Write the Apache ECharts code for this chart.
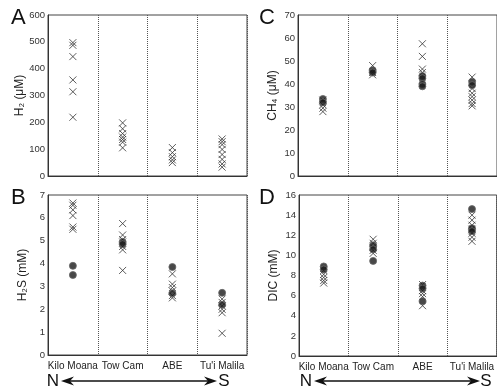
<!DOCTYPE html>
<html>
<head>
<meta charset="utf-8">
<script src="https://cdn.jsdelivr.net/npm/echarts@6/dist/echarts.min.js"></script>
<style>html,body{margin:0;padding:0;background:#fff}#c{width:497px;height:388px}</style>
</head>
<body>
<div id="c"></div>
<script>
// ---------- data ----------
var categories = ['Kilo Moana', 'Tow Cam', 'ABE', "Tu'i Malila"];

// A: H2 (µM)
var h2Cross = [
  [497, 487, 445, 358, 314, 219],
  [198, 176, 158, 145, 136, 126, 105],
  [106, 87, 72, 60, 50],
  [138, 128, 117, 99, 80, 62, 45, 33]
];
var h2Circle = [[], [], [], []];

// B: H2S (mM)
var h2sCross = [
  [6.65, 6.55, 6.35, 6.1, 5.6, 5.5],
  [5.75, 5.25, 5.05, 4.75, 4.6, 3.7],
  [3.55, 3.1, 2.95, 2.8, 2.6, 2.5],
  [2.45, 2.3, 2.15, 2.0, 1.85, 0.95]
];
var h2sCircle = [
  [3.9, 3.5],
  [4.95, 4.85],
  [3.85, 2.7],
  [2.72, 2.2]
];

// C: CH4 (µM)
var ch4Cross = [
  [33, 31, 29.5, 28],
  [48, 45, 44],
  [57.5, 52, 46.5, 45],
  [43, 38, 36, 34.5, 33, 31.5, 30.5]
];
var ch4Circle = [
  [33.5, 32],
  [46, 45],
  [43.5, 42.5, 40, 39],
  [41, 39.5]
];

// D: DIC (mM)
var dicCross = [
  [8.5, 8.1, 7.8, 7.5, 7.25],
  [11.6, 11.2, 10.8, 10.5, 10.2],
  [7.1, 6.5, 6.2, 5.9, 5.0],
  [14.0, 13.5, 13.0, 12.6, 12.2, 11.8, 11.4]
];
var dicCircle = [
  [8.9, 8.6],
  [11.0, 10.6, 9.45],
  [7.0, 6.7, 5.45],
  [14.6, 12.7, 12.4]
];

// y-axis ranges and titles
var yA = {min: 0, max: 600, interval: 100};
var yB = {min: 0, max: 7, interval: 1};
var yC = {min: 0, max: 70, interval: 10};
var yD = {min: 0, max: 16, interval: 2};
var yNames = ['H₂ (μM)', 'H₂S (mM)', 'CH₄ (μM)', 'DIC (mM)'];

// ---------- build ----------
var FONT = 'Liberation Sans, Arial, Helvetica, sans-serif';
var crossPath = 'path://M0,0L10,10M10,0L0,10';

function pairs(nested) {
  var out = [];
  nested.forEach(function (vals, i) {
    vals.forEach(function (v) { out.push([categories[i], v]); });
  });
  return out;
}

var grids = [
  {left: 48, top: 15, width: 199, height: 161},
  {left: 48, top: 195, width: 199, height: 160},
  {left: 298, top: 15, width: 200, height: 161},
  {left: 299, top: 195, width: 199, height: 161}
];
grids.forEach(function (g) { g.show = true; g.borderColor = '#444'; g.borderWidth = 1; g.backgroundColor = 'transparent'; });

var showLabels = [false, true, false, true];
var xAxes = grids.map(function (g, i) {
  return {
    type: 'category', gridIndex: i, data: categories, boundaryGap: true,
    axisLine: {show: true, lineStyle: {color: '#333', width: 1}},
    axisTick: {show: false},
    axisLabel: {show: showLabels[i], interval: 0, fontFamily: FONT, fontSize: 10, color: '#222', margin: 6},
    splitLine: {show: true, interval: 0, lineStyle: {color: '#555', type: [1, 1], width: 1}}
  };
});

var ranges = [yA, yB, yC, yD];
var yAxes = ranges.map(function (r, i) {
  return {
    type: 'value', gridIndex: i, min: r.min, max: r.max, interval: r.interval,
    name: yNames[i], nameLocation: 'middle', nameGap: 19, nameRotate: 90,
    nameTextStyle: {fontFamily: FONT, fontSize: 12, color: '#222'},
    axisLine: {show: true, lineStyle: {color: '#333', width: 1}},
    axisTick: {show: false},
    splitLine: {show: false},
    axisLabel: {fontFamily: FONT, fontSize: 9.5, color: '#333', margin: 3}
  };
});

var crossSets = [h2Cross, h2sCross, ch4Cross, dicCross];
var circleSets = [h2Circle, h2sCircle, ch4Circle, dicCircle];
var series = [];
for (var i = 0; i < 4; i++) {
  series.push({
    type: 'scatter', xAxisIndex: i, yAxisIndex: i, data: pairs(crossSets[i]),
    symbol: crossPath, symbolSize: 7, silent: true,
    itemStyle: {color: 'transparent', borderColor: '#333', borderWidth: 1}
  });
  series.push({
    type: 'scatter', xAxisIndex: i, yAxisIndex: i, data: pairs(circleSets[i]),
    symbol: 'circle', symbolSize: 7, silent: true,
    itemStyle: {color: '#1a1a1a', borderColor: '#666', borderWidth: 1}
  });
}

function letter(t, x, y) {
  return {type: 'text', left: x, top: y, style: {text: t, font: '22px ' + FONT, fill: '#111'}};
}
function arrow(nx, x0, x1, sx, y) {
  return {
    type: 'group', children: [
      {type: 'text', style: {text: 'N', x: nx, y: y, font: '17px ' + FONT, fill: '#111', align: 'center', verticalAlign: 'middle'}},
      {type: 'text', style: {text: 'S', x: sx, y: y, font: '17px ' + FONT, fill: '#111', align: 'center', verticalAlign: 'middle'}},
      {type: 'line', shape: {x1: x0 + 8, y1: y, x2: x1 - 8, y2: y}, style: {stroke: '#111', lineWidth: 1.3}},
      {type: 'polygon', shape: {points: [[x0, y], [x0 + 13, y - 4.5], [x0 + 9, y], [x0 + 13, y + 4.5]]}, style: {fill: '#111'}},
      {type: 'polygon', shape: {points: [[x1, y], [x1 - 13, y - 4.5], [x1 - 9, y], [x1 - 13, y + 4.5]]}, style: {fill: '#111'}}
    ]
  };
}

var chart = echarts.init(document.getElementById('c'), null, {renderer: 'canvas'});
chart.setOption({
  animation: false,
  backgroundColor: '#fff',
  grid: grids,
  xAxis: xAxes,
  yAxis: yAxes,
  series: series,
  graphic: [
    letter('A', 11, 7),
    letter('B', 11, 187),
    letter('C', 259, 7),
    letter('D', 259, 187),
    arrow(53, 61, 217, 224, 381),
    arrow(306, 314, 480, 486, 381)
  ]
});
</script>
</body>
</html>
